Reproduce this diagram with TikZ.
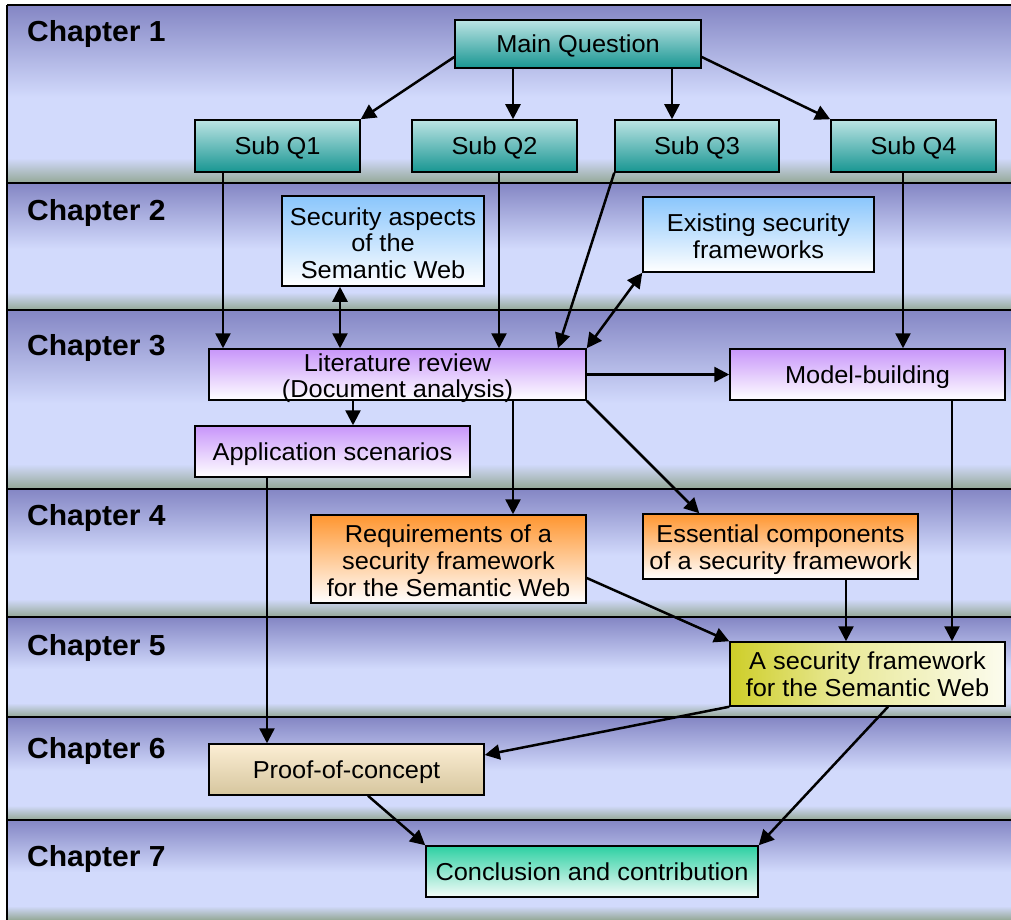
\documentclass[tikz,border=0pt]{standalone}
\usepackage{fontspec}
\setmainfont{Liberation Sans}[FakeStretch=1.035]
\usetikzlibrary{arrows.meta}

% band colours: dark lavender top, pale blue body, grey-green foot
\definecolor{bandD}{RGB}{132,134,196}
\definecolor{bandL}{RGB}{210,218,252}
\definecolor{bandG}{RGB}{148,168,150}
% node colours
\definecolor{tealT}{RGB}{188,228,228}
\definecolor{tealB}{RGB}{24,150,146}
\definecolor{blueT}{RGB}{138,198,252}
\definecolor{purpT}{RGB}{200,150,250}
\definecolor{orngT}{RGB}{255,150,48}
\definecolor{olivT}{RGB}{206,206,40}
\definecolor{olivM}{RGB}{232,232,150}
\definecolor{olivB}{RGB}{252,252,238}
\definecolor{tanT}{RGB}{252,238,212}
\definecolor{tanB}{RGB}{214,198,158}
\definecolor{mintT}{RGB}{44,208,162}
\definecolor{mintB}{RGB}{246,252,250}

\pgfdeclareverticalshading{chapterband}{100bp}{%
  color(0bp)=(bandG); color(25bp)=(bandG); color(32bp)=(bandL);
  color(49bp)=(bandL); color(75bp)=(bandD); color(100bp)=(bandD)}
% olive on the left fading to near white on the right
\pgfdeclarehorizontalshading{olivefade}{100bp}{%
  color(0bp)=(olivT); color(25bp)=(olivT); color(45bp)=(olivM);
  color(75bp)=(olivB); color(100bp)=(olivB)}

\newcommand{\boxfont}{\fontsize{24.5}{26.8}\selectfont}
\newcommand{\chapfont}{\bfseries\fontsize{29}{32}\selectfont}
% raises the first line of a multi-line label to push the block down
\newcommand{\lift}[1]{\rule{0pt}{#1pt}}

\tikzset{
  box/.style={draw=black, line width=1.5pt, inner sep=0pt, align=center,
    font=\boxfont},
  oneline/.style={text height=17.5pt, text depth=0pt},
  teal/.style={box, top color=tealT, bottom color=tealB},
  bluebox/.style={box, top color=blueT, bottom color=white},
  purp/.style={box, top color=purpT, bottom color=white},
  orng/.style={box, top color=orngT, bottom color=white},
  olivbox/.style={box, shade, shading=olivefade},
  tanbox/.style={box, top color=tanT, bottom color=tanB},
  mint/.style={box, top color=mintT, bottom color=mintB},
  chap/.style={anchor=west, inner sep=0pt, font=\chapfont, text height=21pt, text depth=0pt},
  arr/.style={-{Triangle[length=15pt,width=15pt]}, line width=2.5pt},
  darr/.style={{Triangle[length=15pt,width=15pt]}-{Triangle[length=15pt,width=15pt]}, line width=2.5pt},
  sep/.style={line width=1.8pt}
}

\begin{document}
\begin{tikzpicture}[x=1pt, y=-1pt]
\useasboundingbox (0,0) rectangle (1011,920);

% chapter bands
\foreach \a/\b in {5/183, 183/310, 310/489, 489/617, 617/717, 717/820, 820/920}
  \shade[shading=chapterband] (7,\a) rectangle (1011,\b);
\foreach \y in {5, 183, 310, 489, 617, 717, 820}
  \draw[sep] (7,\y) -- (1011,\y);
\draw[sep] (7,5) -- (7,920);

% chapter labels
\node[chap] (c1) at (27,31)  {Chapter 1};
\node[chap] (c2) at (27,210) {Chapter 2};
\node[chap] (c3) at (27,345) {Chapter 3};
\node[chap] (c4) at (27,515) {Chapter 4};
\node[chap] (c5) at (27,645) {Chapter 5};
\node[chap] (c6) at (27,748) {Chapter 6};
\node[chap] (c7) at (27,856) {Chapter 7};

% question nodes
\node[teal, oneline, minimum width=246pt, minimum height=48pt] (main) at (578,44) {Main Question};
\node[teal, oneline, minimum width=165pt, minimum height=52pt] (q1) at (277.5,146) {Sub Q1};
\node[teal, oneline, minimum width=165pt, minimum height=52pt] (q2) at (494.5,146) {Sub Q2};
\node[teal, oneline, minimum width=164pt, minimum height=52pt] (q3) at (697,146) {Sub Q3};
\node[teal, oneline, minimum width=165pt, minimum height=52pt] (q4) at (913.5,146) {Sub Q4};

% chapter 2
\node[bluebox, minimum width=202pt, minimum height=90pt] (sec) at (383,241)
  {\lift{22}Security aspects\\of the\\ Semantic Web};
\node[bluebox, minimum width=231pt, minimum height=75pt] (exist) at (758.5,234.5)
  {\lift{22}Existing security\\frameworks};

% chapter 3
\node[purp, text depth=0pt, minimum width=377pt, minimum height=51pt] (lit) at (397.5,374.5)
  {\lift{20}Literature review\\(Document analysis)};
\node[purp, oneline, minimum width=275pt, minimum height=51pt] (model) at (867.5,374.5) {Model-building};
\node[purp, oneline, minimum width=275pt, minimum height=51pt] (app) at (332.5,451.5) {Application scenarios};

% chapter 4
\node[orng, minimum width=275pt, minimum height=88pt] (req) at (448.5,559)
  {\lift{21}Requirements of a\\security framework\\for the Semantic Web};
\node[orng, minimum width=275pt, minimum height=65pt] (ess) at (780.5,546.5)
  {\lift{24}Essential components\\of a security framework};

% chapter 5
\node[olivbox, minimum width=275pt, minimum height=64pt] (asf) at (867.5,674)
  {A security framework\\for the Semantic Web};

% chapter 6 and 7
\node[tanbox, oneline, minimum width=275pt, minimum height=51pt] (proof) at (346.5,769.5) {Proof-of-concept};
\node[mint, oneline, minimum width=332pt, minimum height=51pt] (concl) at (592,871.5) {Conclusion and contribution};

% connectors
\draw[arr] ([yshift=-13pt]main.west) -- (q1.north east);
\draw[arr] ([xshift=-65pt]main.south) -- ([xshift=-65pt]main.south |- q2.north);
\draw[arr] ([xshift=94pt]main.south) -- ([xshift=94pt]main.south |- q3.north);
\draw[arr] ([yshift=-13pt]main.east) -- (q4.north west);

\draw[arr] ([xshift=-54.5pt]q1.south) -- ([xshift=-54.5pt]q1.south |- lit.north);
\draw[arr] ([xshift=4.5pt]q2.south) -- ([xshift=4.5pt]q2.south |- lit.north);
\draw[arr] (q3.south west) -- ([xshift=160.5pt]lit.north);
\draw[arr] ([xshift=-10.5pt]q4.south) -- ([xshift=-10.5pt]q4.south |- model.north);

\draw[darr] ([xshift=-43pt]sec.south) -- ([xshift=-43pt]sec.south |- lit.north);
\draw[darr] (exist.south west) -- (lit.north east);

\draw[arr] (lit.east) -- (lit.east -| model.west);
\draw[arr] ([xshift=-44.5pt]lit.south) -- ([xshift=-44.5pt]lit.south |- app.north);
\draw[arr] ([xshift=115.5pt]lit.south) -- ([xshift=115.5pt]lit.south |- req.north);
\draw[arr] (lit.south east) -- ([xshift=57pt]ess.north west);

\draw[arr] ([yshift=-19pt]req.east) -- (asf.north west);
\draw[arr] ([xshift=65.5pt]ess.south) -- ([xshift=65.5pt]ess.south |- asf.north);
\draw[arr] ([xshift=84.5pt]model.south) -- ([xshift=84.5pt]model.south |- asf.north);

\draw[arr] ([xshift=-65.5pt]app.south) -- ([xshift=-65.5pt]app.south |- proof.north);
\draw[arr] (asf.south west) -- ([yshift=14.5pt]proof.east);
\draw[arr] ([xshift=20.5pt]asf.south) -- (concl.north east);
\draw[arr] ([xshift=21.5pt]proof.south) -- (concl.north west);
\end{tikzpicture}
\end{document}
